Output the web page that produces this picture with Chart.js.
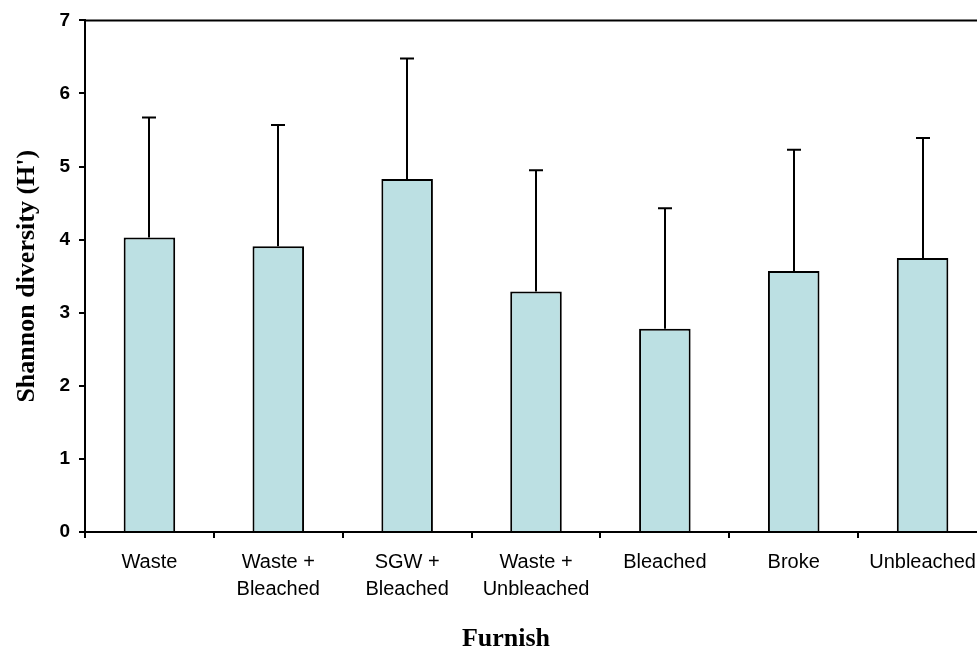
<!DOCTYPE html>
<html>
<head>
<meta charset="utf-8">
<script src="https://cdn.jsdelivr.net/npm/chart.js@4/dist/chart.umd.min.js"></script>
<style>
  html, body { margin: 0; padding: 0; background: #fff; overflow: hidden; }
  #wrap { width: 990px; height: 649px; }
</style>
</head>
<body>
<div id="wrap"><canvas id="c" width="990" height="649"></canvas></div>
<script>
// Furnish types along the x axis
const categories = [
  'Waste',
  ['Waste +', 'Bleached'],
  ['SGW +', 'Bleached'],
  ['Waste +', 'Unbleached'],
  'Bleached',
  'Broke',
  'Unbleached'
];
// Mean Shannon diversity (H') per furnish
const meanH = [4.03, 3.91, 4.83, 3.29, 2.78, 3.57, 3.75];
// Standard deviation (upper error bar)
const sdH = [1.64, 1.66, 1.65, 1.66, 1.65, 1.66, 1.64];
// Y axis range and step
const yTicks = { min: 0, max: 7, step: 1 };
const xTitle = 'Furnish';

// Upward-only error bars with a flat cap
const errorBars = {
  id: 'errorBars',
  afterDatasetsDraw(chart) {
    const meta = chart.getDatasetMeta(0);
    const y = chart.scales.y;
    const ctx = chart.ctx;
    ctx.save();
    ctx.strokeStyle = '#000';
    ctx.lineWidth = 2;
    meta.data.forEach((bar, i) => {
      const x = Math.round(bar.x);
      const y0 = y.getPixelForValue(meanH[i]);
      const y1 = y.getPixelForValue(meanH[i] + sdH[i]);
      ctx.beginPath();
      ctx.moveTo(x, y0);
      ctx.lineTo(x, y1);
      ctx.moveTo(x - 7, y1);
      ctx.lineTo(x + 7, y1);
      ctx.stroke();
    });
    ctx.restore();
  }
};

// Frame line along the top of the plot area, plus the x axis title
const frameAndTitle = {
  id: 'frameAndTitle',
  afterDraw(chart) {
    const a = chart.chartArea;
    const ctx = chart.ctx;
    ctx.save();
    ctx.strokeStyle = '#000';
    ctx.lineWidth = 2;
    ctx.beginPath();
    ctx.moveTo(a.left, a.top);
    ctx.lineTo(a.right, a.top);
    ctx.stroke();
    ctx.fillStyle = '#000';
    ctx.font = 'bold 26px "Liberation Serif", "Times New Roman", serif';
    ctx.textAlign = 'center';
    ctx.textBaseline = 'middle';
    ctx.fillText(xTitle, 506, 639);
    ctx.restore();
  }
};

new Chart(document.getElementById('c'), {
  type: 'bar',
  data: {
    labels: categories,
    datasets: [{
      data: meanH,
      backgroundColor: '#bce0e3',
      borderColor: '#000',
      borderWidth: 2,
      barPercentage: 0.4,
      categoryPercentage: 1.0
    }]
  },
  options: {
    responsive: false,
    animation: false,
    devicePixelRatio: 1,
    layout: { padding: { top: 19, right: 3, bottom: 0, left: 0 } },
    plugins: { legend: { display: false }, tooltip: { enabled: false } },
    scales: {
      x: {
        offset: true,
        afterFit(scale) { scale.height = 117; },
        grid: {
          offset: true,
          drawOnChartArea: false,
          drawTicks: true,
          tickLength: 6,
          color: '#000',
          lineWidth: 2
        },
        border: { color: '#000', width: 2 },
        ticks: {
          color: '#000',
          padding: 11,
          maxRotation: 0,
          autoSkip: false,
          font: { family: '"Liberation Sans", Arial, sans-serif', size: 20, lineHeight: 1.35 }
        }
      },
      y: {
        min: yTicks.min,
        max: yTicks.max,
        afterFit(scale) { scale.width = 85; },
        grid: {
          drawOnChartArea: false,
          drawTicks: true,
          tickLength: 6,
          color: '#000',
          lineWidth: 2
        },
        border: { color: '#000', width: 2 },
        ticks: {
          stepSize: yTicks.step,
          color: '#000',
          padding: 9,
          font: { family: '"Liberation Sans", Arial, sans-serif', size: 19, weight: 'bold' }
        },
        title: {
          display: true,
          text: "Shannon diversity (H')",
          color: '#000',
          padding: { top: 12, bottom: 0 },
          font: { family: '"Liberation Serif", "Times New Roman", serif', size: 26, weight: 'bold', lineHeight: 1.2 }
        }
      }
    }
  },
  plugins: [errorBars, frameAndTitle]
});
</script>
</body>
</html>
